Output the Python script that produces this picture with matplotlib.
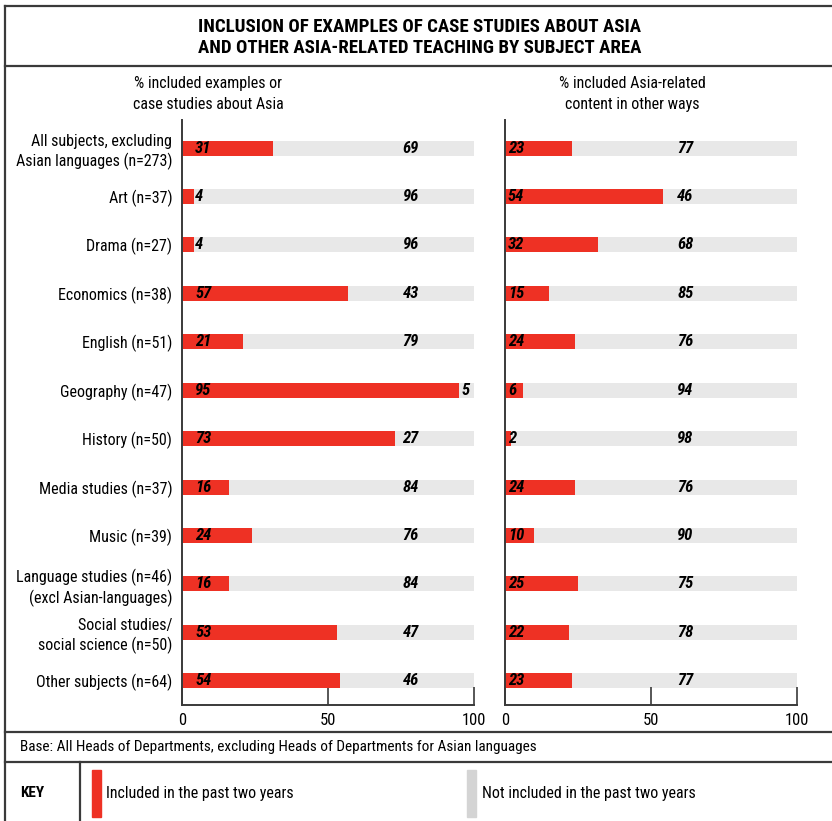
import matplotlib
matplotlib.use("Agg")
import matplotlib.pyplot as plt
from matplotlib.lines import Line2D
from matplotlib.patches import Rectangle
from matplotlib import font_manager

# subject rows, top to bottom
subjects = [
    "All subjects, excluding\nAsian languages (n=273)",
    "Art (n=37)",
    "Drama (n=27)",
    "Economics (n=38)",
    "English (n=51)",
    "Geography (n=47)",
    "History (n=50)",
    "Media studies (n=37)",
    "Music (n=39)",
    "Language studies (n=46)\n(excl Asian-languages)",
    "Social studies/\nsocial science (n=50)",
    "Other subjects (n=64)",
]
# % included examples or case studies about Asia
examples_yes = [31, 4, 4, 57, 21, 95, 73, 16, 24, 16, 53, 54]
examples_no = [69, 96, 96, 43, 79, 5, 27, 84, 76, 84, 47, 46]
# % included Asia-related content in other ways
other_yes = [23, 54, 32, 15, 24, 6, 2, 24, 10, 25, 22, 23]
other_no = [77, 46, 68, 85, 76, 94, 98, 76, 90, 75, 78, 77]

panel_titles = ["% included examples or\ncase studies about Asia",
                "% included Asia-related\ncontent in other ways"]
key_labels = ["Included in the past two years", "Not included in the past two years"]

RED = "#EE3124"
GREY = "#E8E8E8"
KEYGREY = "#D4D4D4"
LINE = "#3a3a3a"


def weight_num(w):
    if isinstance(w, (int, float)):
        return w
    return {"bold": 700, "heavy": 800, "black": 900, "semibold": 600,
            "demibold": 600}.get(str(w).lower(), 400)


# pick a narrow face that also has bold and bold italic cuts
fonts = font_manager.fontManager.ttflist
scores = {}
for f in fonts:
    if "Condensed" in f.name or "Narrow" in f.name:
        s = scores.setdefault(f.name, set())
        if weight_num(f.weight) >= 600:
            s.add("bi" if f.style == "italic" else "b")
        else:
            s.add("i" if f.style == "italic" else "r")
if scores:
    FONT = max(scores, key=lambda n: (len(scores[n]), "Roboto" in n))
    SCALE = 1.0
else:
    FONT, SCALE = "DejaVu Sans", 0.8
plt.rcParams["font.family"] = [FONT, "DejaVu Sans"]


def fs(v):
    return v * SCALE


W, H = 832, 821
fig = plt.figure(figsize=(W / 100, H / 100), dpi=100)


def fx(px):
    return px / W


def fy(py):
    return 1 - py / H


def hline(py, x0=4.5, x1=832):
    fig.add_artist(Line2D([fx(x0), fx(x1)], [fy(py), fy(py)], color=LINE, lw=1.6))


def vline(px, y0, y1):
    fig.add_artist(Line2D([fx(px), fx(px)], [fy(y0), fy(y1)], color=LINE, lw=1.6))


# frame
hline(6)
hline(66)
hline(732)
hline(762)
vline(4.5, 6, 821)
vline(80, 762, 821)

fig.text(fx(420), fy(37.5), "INCLUSION OF EXAMPLES OF CASE STUDIES ABOUT ASIA\nAND OTHER ASIA-RELATED TEACHING BY SUBJECT AREA",
         ha="center", va="center", fontsize=fs(13.6), fontweight="bold", linespacing=1.15)

ypos = list(range(len(subjects)))
panels = [(182, examples_yes, examples_no, 4.5, 75.5, 208),
          (505, other_yes, other_no, 1.0, 59.0, 632)]

for k, (left, yes, no, red_lab, grey_lab, tx) in enumerate(panels):
    ax = fig.add_axes([fx(left), fy(705), fx(292), (705 - 120) / H])
    ax.barh(ypos, no, left=yes, height=0.31, color=GREY, zorder=1)
    ax.barh(ypos, yes, height=0.31, color=RED, zorder=2)
    for y, a, b in zip(ypos, yes, no):
        ax.text(red_lab, y, str(a), ha="left", va="center", fontsize=fs(12),
                fontweight="bold", fontstyle="italic", zorder=3)
        gx = max(grey_lab, a + 0.8)
        ax.text(gx, y, str(b), ha="left", va="center", fontsize=fs(12),
                fontweight="bold", fontstyle="italic", zorder=3)
    ax.set_xlim(0, 100)
    ax.set_ylim(11.5, -0.58)
    ax.set_xticks([0, 50, 100])
    ax.tick_params(axis="x", direction="in", length=13, width=1.2, color=LINE,
                   labelsize=fs(12), pad=6)
    ax.tick_params(axis="y", length=0)
    for s in ["top", "right"]:
        ax.spines[s].set_visible(False)
    for s in ["left", "bottom"]:
        ax.spines[s].set_color(LINE)
        ax.spines[s].set_linewidth(1.4)
    if k == 0:
        ax.set_yticks(ypos)
        ax.set_yticklabels(subjects, fontsize=fs(11.5), linespacing=1.3)
        ax.tick_params(axis="y", pad=7)
    else:
        ax.set_yticks([])
    fig.text(fx(tx), fy(94), panel_titles[k], ha="center", va="center",
             fontsize=fs(11.5), linespacing=1.45)

fig.text(fx(20), fy(747), "Base: All Heads of Departments, excluding Heads of Departments for Asian languages",
         ha="left", va="center", fontsize=fs(11))

# key
fig.text(fx(20), fy(793), "KEY", ha="left", va="center", fontsize=fs(11), fontweight="bold")
fig.add_artist(Rectangle((fx(92), fy(817)), fx(9), (817 - 770) / H, color=RED))
fig.text(fx(106), fy(793), key_labels[0], ha="left", va="center", fontsize=fs(11.5))
fig.add_artist(Rectangle((fx(467), fy(817)), fx(9), (817 - 770) / H, color=KEYGREY))
fig.text(fx(482), fy(793), key_labels[1], ha="left", va="center", fontsize=fs(11.5))

fig.savefig("out.png", dpi=100)
